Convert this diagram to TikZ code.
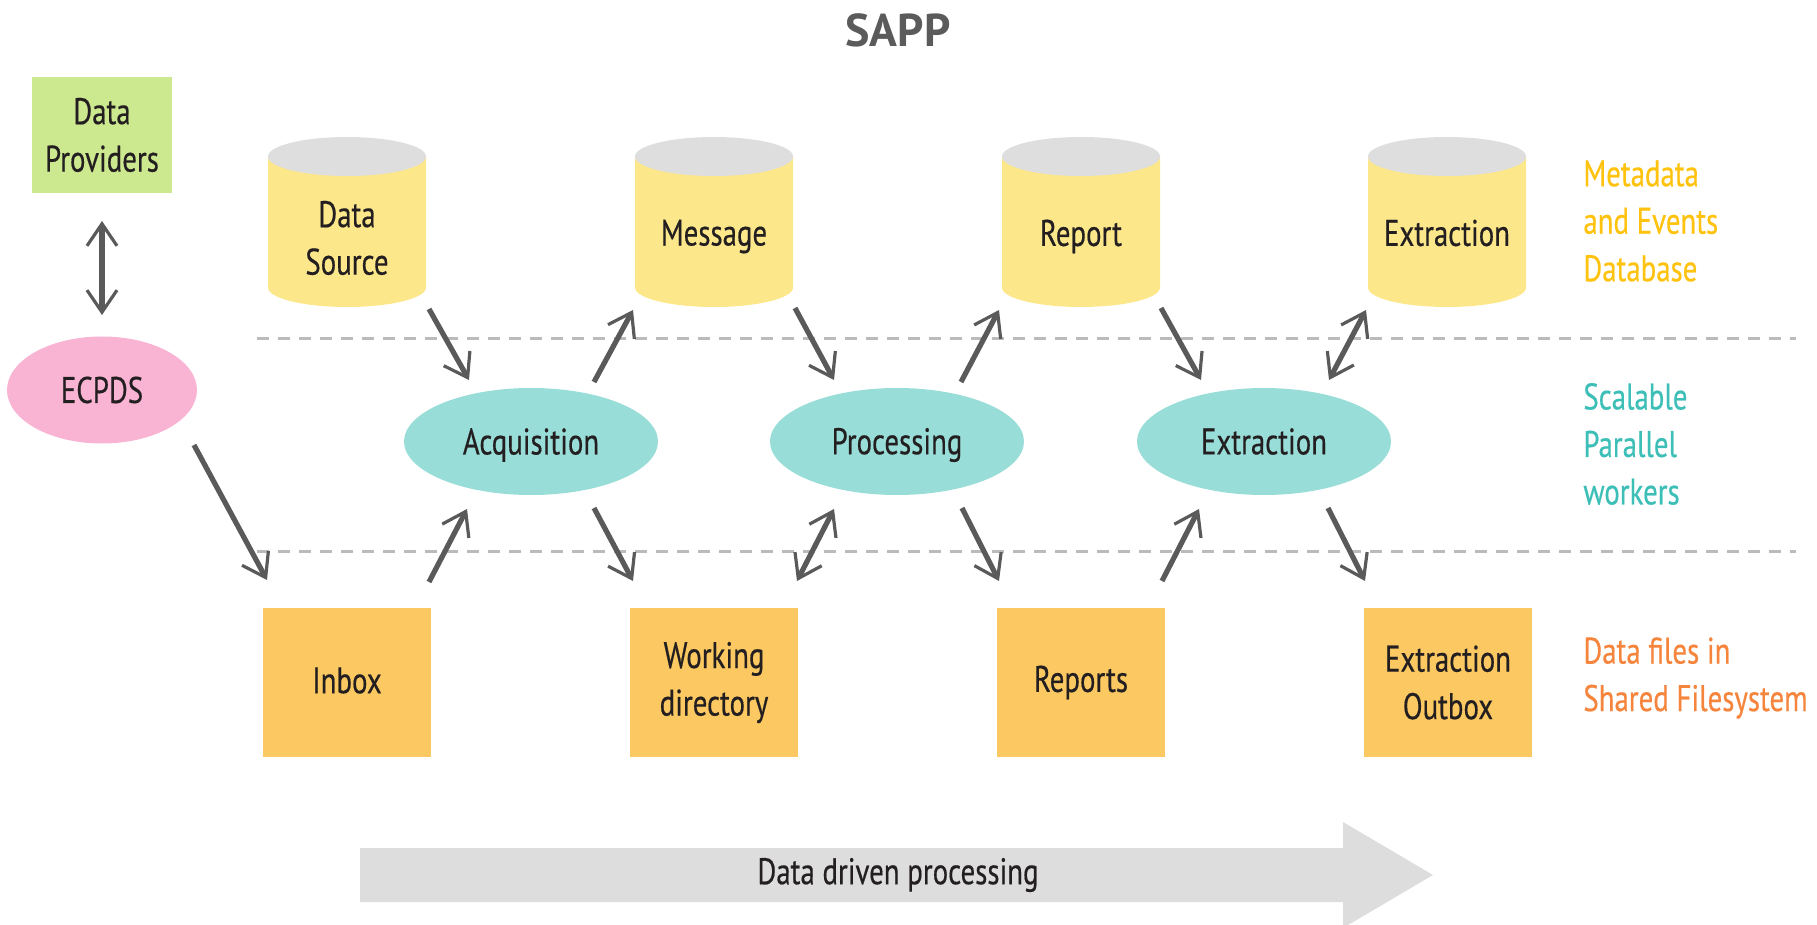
\documentclass[tikz,border=0pt]{standalone}
\usepackage{fontspec}
\setmainfont{PT Sans}[FakeStretch=0.78,FakeBold=0.4]
\newfontfamily\titlefont{PT Sans}
\usetikzlibrary{arrows.meta,calc,shapes.geometric}
\definecolor{dpgreen}{HTML}{CDE990}
\definecolor{ecppink}{HTML}{F9B4D4}
\definecolor{cylyellow}{HTML}{FDE78B}
\definecolor{cyltop}{HTML}{DEDEDE}
\definecolor{workteal}{HTML}{99DDD8}
\definecolor{fileorange}{HTML}{FBC862}
\definecolor{lblyellow}{HTML}{FFC20E}
\definecolor{lblteal}{HTML}{3DBFB8}
\definecolor{lblorange}{HTML}{F5843C}
\definecolor{bigarrowgray}{HTML}{DDDDDD}
\definecolor{arrowgray}{HTML}{5A5A5A}
\definecolor{dashgray}{HTML}{BBBBBB}
\definecolor{titlegray}{HTML}{5B5B5B}
\definecolor{textblack}{HTML}{231F20}
\begin{document}
\begin{tikzpicture}[x=0.5pt,y=-0.5pt,
  txt/.style={font=\fontsize{18.5}{23.75}\selectfont, text=textblack, align=center, inner sep=0pt},
  dpbox/.style={txt, rectangle, fill=dpgreen, minimum width=70pt, minimum height=58pt},
  ecp/.style={txt, ellipse, fill=ecppink, minimum width=95pt, minimum height=53.5pt},
  worker/.style={txt, ellipse, fill=workteal, minimum width=127pt, minimum height=53.5pt},
  filebox/.style={txt, rectangle, fill=fileorange, minimum width=84pt, minimum height=74.5pt},
  lbl/.style={txt, align=left, anchor=west},
  arr/.style={draw=arrowgray, line width=2.6pt, -{Straight Barb[length=11pt,width=15pt,line width=1.6pt]}},
  darr/.style={draw=arrowgray, line width=2.6pt, {Straight Barb[length=11pt,width=15pt,line width=1.6pt]}-{Straight Barb[length=11pt,width=15pt,line width=1.6pt]}},
  dashline/.style={draw=dashgray, line width=1.5pt, dash pattern=on 6pt off 4.5pt},
  bigarrow/.style={fill=bigarrowgray}
]
\useasboundingbox (0,0) rectangle (1817,925);

% title
\node[font=\titlefont\bfseries\fontsize{23}{28}\selectfont, text=titlegray, anchor=base, inner sep=0pt] (title) at (898,47) {SAPP};

% dashed separators
\draw[dashline] (257,339) -- (1796,339);
\draw[dashline] (257,551) -- (1796,551);

% cylinders
\foreach \cx in {347,714,1081,1447}{
  \fill[cylyellow] (\cx-79,156.5) -- (\cx-79,287.5) arc[start angle=180, end angle=360, x radius=39.5pt, y radius=9.75pt] -- (\cx+79,156.5) -- cycle;
  \fill[cyltop] (\cx,156.5) ellipse [x radius=39.5pt, y radius=9.75pt];
}
\node[txt] (ds) at (347,238) {Data\\Source};
\node[txt] (msg) at (714,236.5) {Message};
\node[txt] (rep) at (1081,236.5) {Report};
\node[txt] (extdb) at (1447,233) {Extraction};

% left nodes
\node[dpbox] (dp) at (102,135) {Data\\Providers};
\node[ecp] (ecpds) at (102,390) {ECPDS};

% workers
\node[worker] (acq) at (531,441.5) {};
\node[txt] (acqt) at (531,445) {Acquisition};
\node[worker] (proc) at (897,441.5) {};
\node[txt] (proct) at (897,445) {Processing};
\node[worker] (ext) at (1264,441.5) {Extraction};

% file boxes
\node[filebox] (inbox) at (347,682.5) {};
\node[txt] (inboxt) at (347,680.5) {Inbox};
\node[filebox] (wd) at (714,682.5) {Working\\directory};
\node[filebox] (reps) at (1081,682.5) {Reports};
\node[filebox] (outbox) at (1448,682.5) {Extraction\\Outbox};

% right labels
\node[lbl, text=lblyellow] (lmeta) at (1583,221) {Metadata\\and Events\\Database};
\node[lbl, text=lblteal] (lwork) at (1583,444) {Scalable\\Parallel\\workers};
\node[lbl, text=lblorange] (lfiles) at (1583,678) {Data files in\\Shared Filesystem};

% big arrow
\fill[bigarrow] (360,848) -- (1343,848) -- (1343,822) -- (1433,875) -- (1343,928) -- (1343,902) -- (360,902) -- cycle;
\node[txt] (ddp) at (898,875) {Data driven processing};

% connector end points
\coordinate (dpA) at (102,221);  \coordinate (dpB) at (102,315);
\coordinate (u1a) at (429,309);  \coordinate (u1b) at (469,380);
\coordinate (u2a) at (594,382);  \coordinate (u2b) at (633,310);
\coordinate (u3a) at (795,308);  \coordinate (u3b) at (834,380);
\coordinate (u4a) at (961,382);  \coordinate (u4b) at (999,310);
\coordinate (u5a) at (1161,308); \coordinate (u5b) at (1201,380);
\coordinate (u6a) at (1329,380); \coordinate (u6b) at (1366,310);
\coordinate (l0a) at (194,445);  \coordinate (l0b) at (267,580);
\coordinate (l1a) at (429,582);  \coordinate (l1b) at (467,509);
\coordinate (l2a) at (594,508);  \coordinate (l2b) at (633,581);
\coordinate (l3a) at (797,581);  \coordinate (l3b) at (834,509);
\coordinate (l4a) at (962,508);  \coordinate (l4b) at (999,581);
\coordinate (l5a) at (1162,581); \coordinate (l5b) at (1199,509);
\coordinate (l6a) at (1328,508); \coordinate (l6b) at (1365,581);

% connectors
\draw[darr] (dpA) -- (dpB);
\draw[arr] (u1a) -- (u1b);
\draw[arr] (u2a) -- (u2b);
\draw[arr] (u3a) -- (u3b);
\draw[arr] (u4a) -- (u4b);
\draw[arr] (u5a) -- (u5b);
\draw[darr] (u6a) -- (u6b);
\draw[arr] (l0a) -- (l0b);
\draw[arr] (l1a) -- (l1b);
\draw[arr] (l2a) -- (l2b);
\draw[darr] (l3a) -- (l3b);
\draw[arr] (l4a) -- (l4b);
\draw[arr] (l5a) -- (l5b);
\draw[arr] (l6a) -- (l6b);
\end{tikzpicture}
\end{document}
